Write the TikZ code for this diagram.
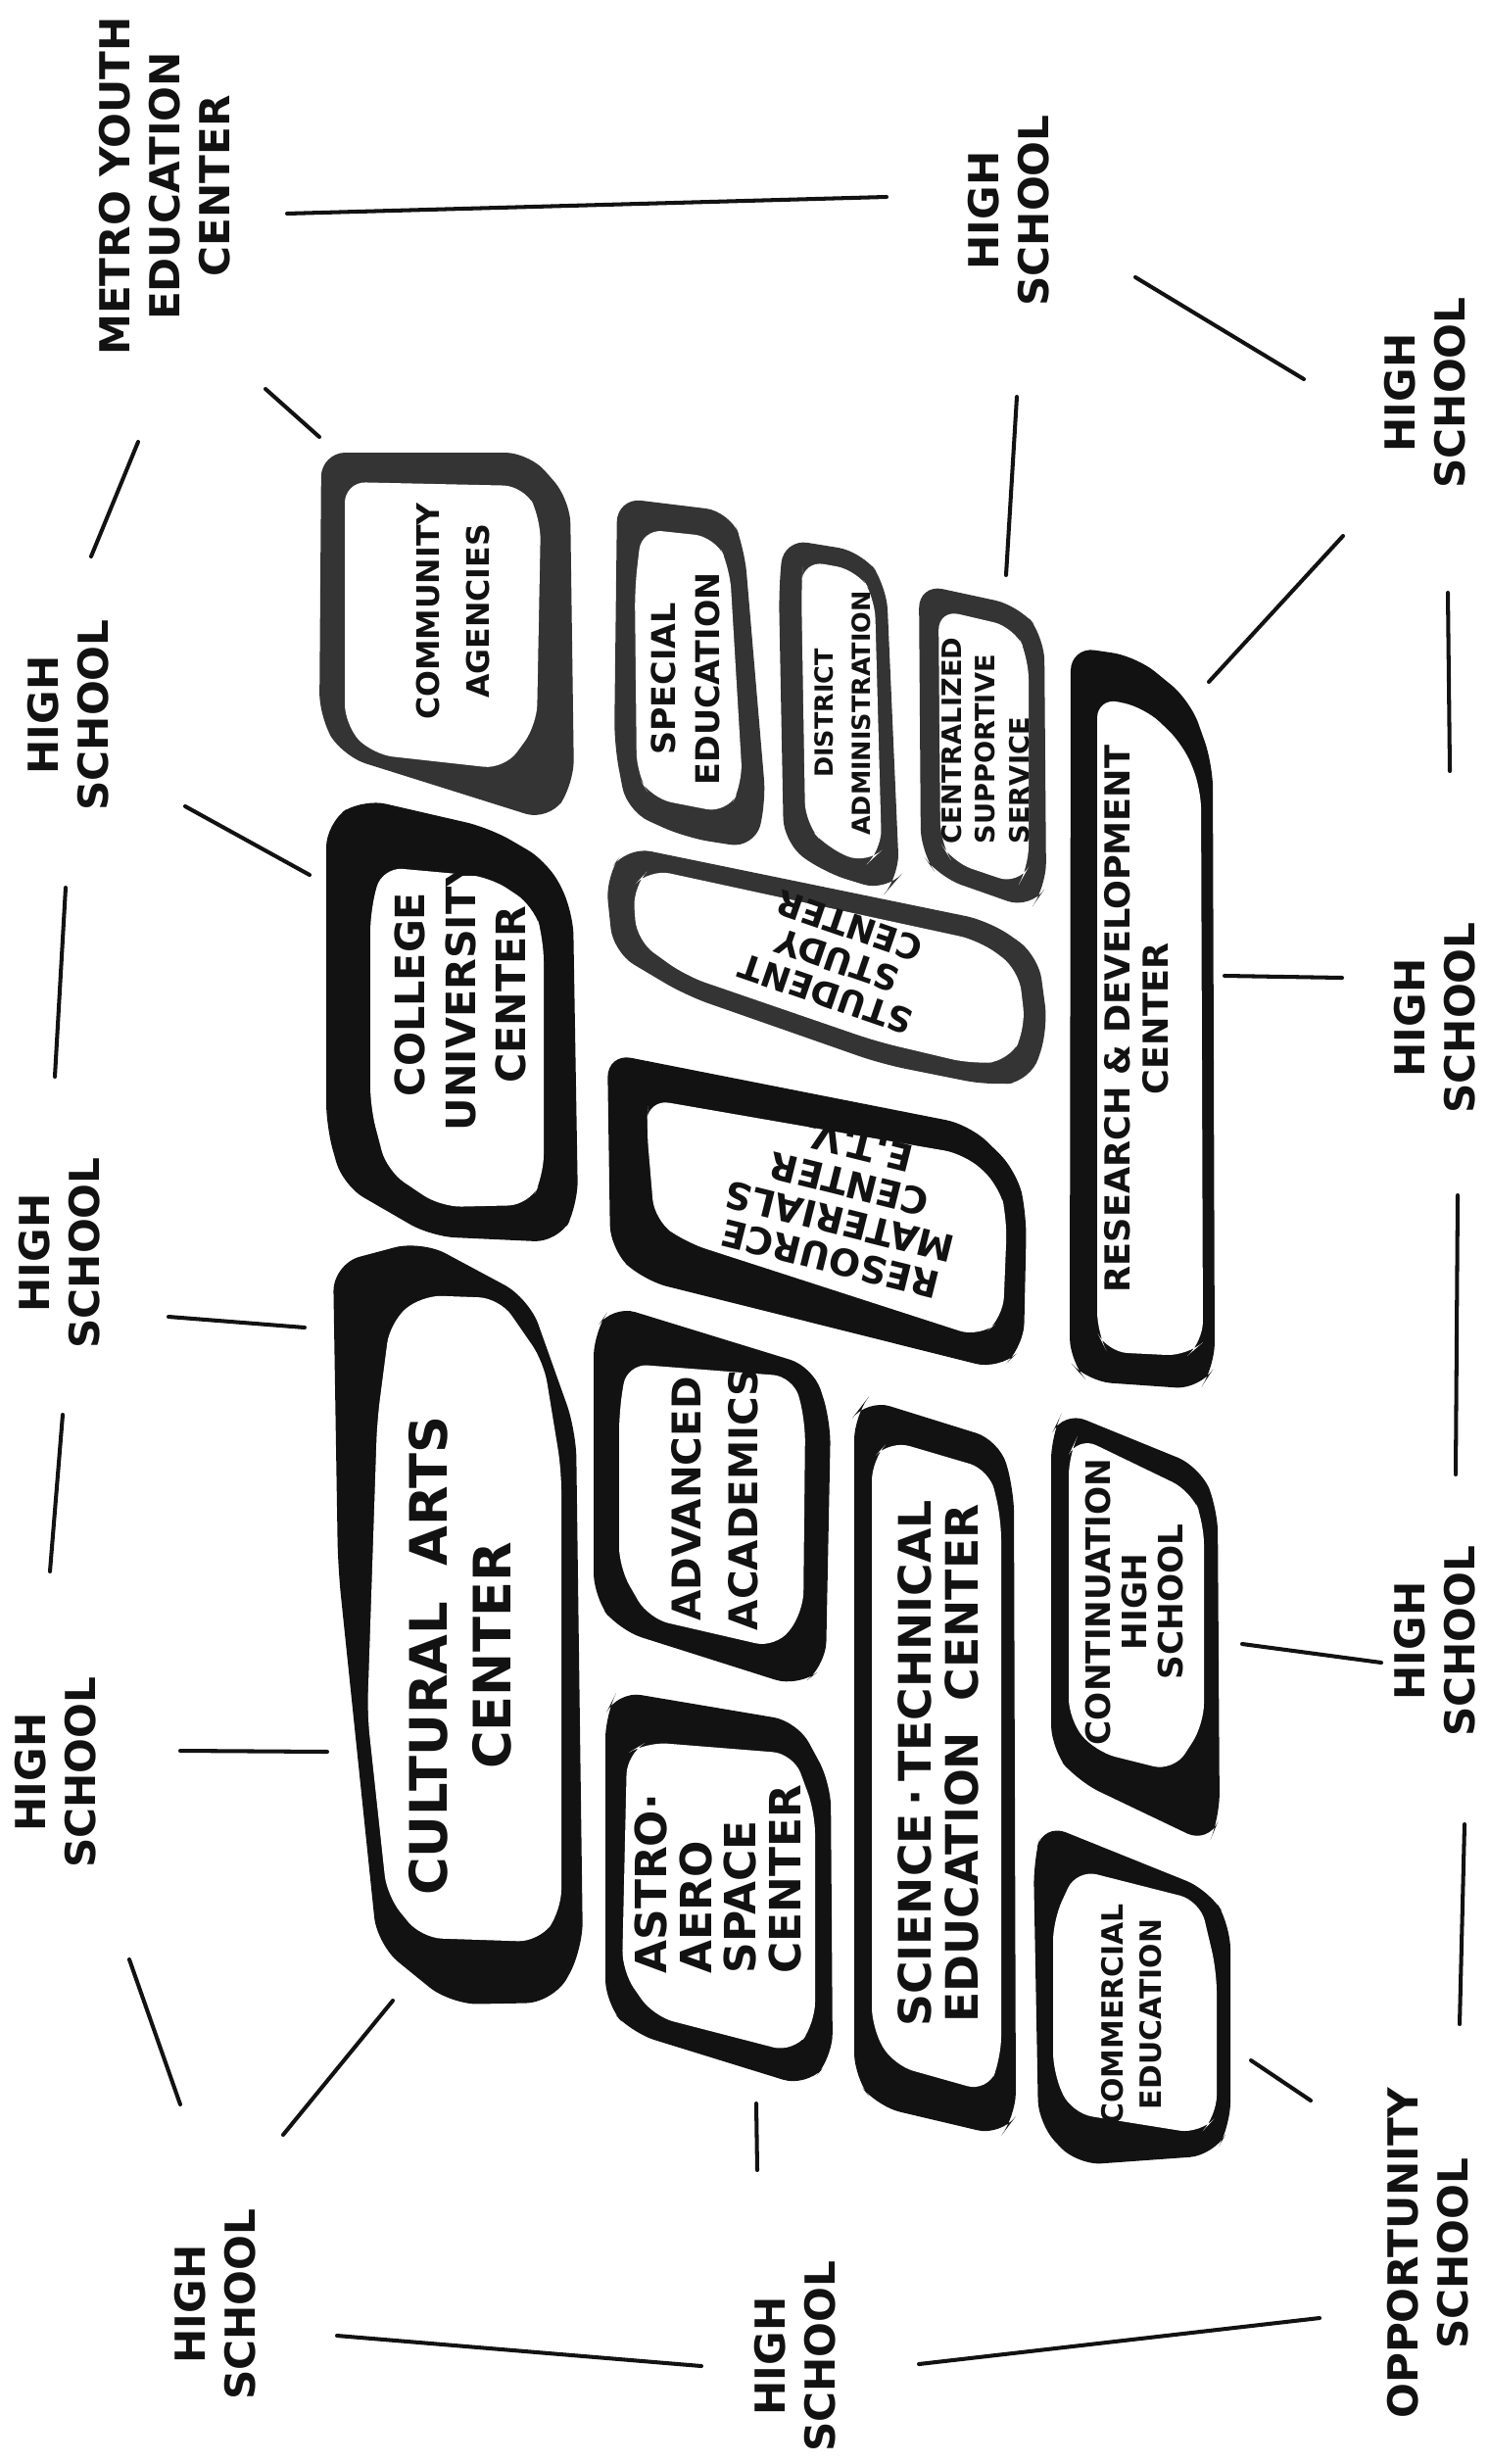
\documentclass[tikz,border=0pt]{standalone}
\usepackage{fontspec}
\setmainfont{DejaVu Sans}
\usepackage{tikz}
\definecolor{ink}{RGB}{18,18,18}
\definecolor{inkgray}{RGB}{52,52,52}
\tikzset{
  rimgray/.style={fill=inkgray,rounded corners=14pt},
  rimsolid/.style={fill=ink,rounded corners=14pt},
  screen/.style={fill=white,rounded corners=12pt},
  link/.style={line width=2.3pt,draw=ink,line cap=round},
  boxlabel/.style={rotate=90,align=center,text=ink,inner sep=0pt}
}

\begin{document}
\begin{tikzpicture}[
  x=0.2mm,y=-0.2mm,
  school/.style={boxlabel,font=\fontsize{24}{29}\selectfont\bfseries},
  lbl/.style 2 args={boxlabel,font=\fontsize{#1}{#2}\selectfont\bfseries}
]
\useasboundingbox (0,0) rectangle (1519,2515);
\fill[white] (0,0) rectangle (1519,2515);

\fill[rimgray] (328,462) -- (540,462) -- (582,510) -- (586,800) -- (560,838) -- (350,772) -- (326,732) -- cycle;
\fill[screen] (352,492) -- (535,496) -- (552,530) -- (548,740) -- (515,785) -- (380,770) -- (352,740) -- cycle;

\fill[rimgray] (630,508) -- (745,522) -- (760,560) -- (782,820) -- (770,866) -- (700,855) -- (640,828) -- (627,760) -- cycle;
\fill[screen] (655,540) -- (730,548) -- (745,580) -- (758,800) -- (742,830) -- (665,815) -- (650,790) -- (648,600) -- cycle;

\fill[rimgray] (800,550) -- (880,563) -- (905,598) -- (918,895) -- (905,910) -- (840,890) -- (800,860) -- (795,600) -- cycle;
\fill[screen] (820,572) -- (875,582) -- (893,610) -- (900,868) -- (885,882) -- (845,866) -- (822,840) -- (818,600) -- cycle;

\fill[rimgray] (938,596) -- (1040,618) -- (1066,650) -- (1068,905) -- (1052,928) -- (958,895) -- (940,870) -- cycle;
\fill[screen] (958,622) -- (1035,640) -- (1050,672) -- (1050,885) -- (1040,903) -- (972,880) -- (960,860) -- cycle;

\fill[rimsolid] (1093,660) -- (1160,670) -- (1215,715) -- (1238,780) -- (1240,1395) -- (1225,1418) -- (1110,1410) -- (1092,1390) -- cycle;
\fill[screen] (1120,712) -- (1168,722) -- (1208,760) -- (1226,805) -- (1228,1370) -- (1212,1384) -- (1130,1380) -- (1120,1360) -- cycle;

\fill[rimsolid] (333,840) -- (370,815) -- (500,845) -- (560,880) -- (585,930) -- (590,1230) -- (570,1268) -- (440,1262) -- (350,1210) -- (333,1150) -- cycle;
\fill[screen] (378,930) -- (390,885) -- (500,895) -- (545,925) -- (555,960) -- (555,1200) -- (540,1230) -- (450,1232) -- (395,1195) -- (378,1130) -- cycle;

\fill[rimgray] (618,895) -- (640,864) -- (1010,940) -- (1060,975) -- (1070,1050) -- (1052,1104) -- (1010,1108) -- (900,1086) -- (700,1016) -- (626,972) -- cycle;
\fill[screen] (646,905) -- (663,887) -- (1000,960) -- (1040,990) -- (1047,1050) -- (1030,1083) -- (992,1086) -- (895,1063) -- (700,996) -- (650,960) -- cycle;

\fill[rimsolid] (620,1075) -- (990,1148) -- (1038,1195) -- (1048,1240) -- (1045,1375) -- (1020,1398) -- (657,1307) -- (623,1275) -- cycle;
\fill[screen] (660,1150) -- (662,1122) -- (985,1178) -- (1020,1210) -- (1028,1245) -- (1024,1345) -- (1000,1365) -- (700,1268) -- (668,1245) -- cycle;

\fill[rimsolid,rounded corners=16pt] (340,1290) -- (430,1266) -- (540,1325) -- (588,1460) -- (595,1990) -- (565,2044) -- (460,2046) -- (385,1985) -- (345,1600) -- cycle;
\fill[screen] (398,1350) -- (430,1322) -- (510,1325) -- (555,1390) -- (573,1500) -- (573,1950) -- (550,1982) -- (430,1978) -- (395,1935) -- (375,1750) -- (385,1450) -- cycle;

\fill[rimsolid] (606,1360) -- (625,1332) -- (830,1395) -- (848,1450) -- (843,1700) -- (815,1722) -- (632,1664) -- (606,1630) -- cycle;
\fill[screen] (640,1392) -- (810,1405) -- (822,1450) -- (820,1646) -- (792,1682) -- (662,1652) -- (632,1600) -- (632,1440) -- cycle;

\fill[rimsolid] (618,1750) -- (630,1726) -- (814,1757) -- (848,1820) -- (850,2100) -- (823,2130) -- (645,2075) -- (618,2045) -- cycle;
\fill[screen] (640,1790) -- (660,1778) -- (810,1790) -- (832,1850) -- (832,2065) -- (810,2095) -- (667,2058) -- (635,2012) -- cycle;

\fill[rimsolid] (872,1445) -- (885,1428) -- (1020,1470) -- (1035,1520) -- (1037,2160) -- (1022,2180) -- (895,2150) -- (872,2120) -- cycle;
\fill[screen] (890,1490) -- (908,1470) -- (1010,1500) -- (1022,1550) -- (1022,2100) -- (1008,2135) -- (912,2108) -- (890,2070) -- cycle;

\fill[rimsolid] (1073,1465) -- (1085,1440) -- (1225,1497) -- (1243,1540) -- (1245,1855) -- (1234,1882) -- (1100,1818) -- (1073,1785) -- cycle;
\fill[screen] (1091,1485) -- (1100,1466) -- (1216,1522) -- (1229,1555) -- (1229,1760) -- (1198,1808) -- (1118,1788) -- (1091,1755) -- cycle;

\fill[rimsolid] (1055,1900) -- (1065,1861) -- (1234,1929) -- (1256,1965) -- (1256,2170) -- (1239,2200) -- (1100,2210) -- (1060,2168) -- cycle;
\fill[screen] (1075,1960) -- (1099,1908) -- (1225,1940) -- (1242,2012) -- (1242,2160) -- (1225,2178) -- (1094,2157) -- (1075,2116) -- cycle;

\node[lbl={18}{29}] (comm) at (462,624) {COMMUNITY\\AGENCIES};
\node[lbl={19}{25.5}] (sped) at (700,693) {SPECIAL\\EDUCATION};
\node[lbl={14.5}{21.5}] (dist) at (860,728) {DISTRICT\\ADMINISTRATION};
\node[lbl={15.5}{19.5},align=left] (cent) at (1006,756) {CENTRALIZED\\SUPPORTIVE\\SERVICE};
\node[lbl={20}{22.5}] (resd) at (1160,1040) {RESEARCH \& DEVELOPMENT\\CENTER};
\node[lbl={23.5}{29.5}] (coll) at (470,1015) {COLLEGE\\UNIVERSITY\\CENTER};
\node[lbl={20}{21},rotate=71] (stud) at (855,980) {STUDENT\\STUDY\\CENTER};
\node[lbl={21.5}{22.5},rotate=76] (reso) at (862,1228) {RESOURCE\\MATERIALS\\CENTER\\E.T.V.};
\node[lbl={30}{37}] (cult) at (470,1690) {CULTURAL~~ARTS\\CENTER};
\node[lbl={23}{33}] (adv) at (730,1530) {ADVANCED\\ACADEMICS};
\node[lbl={25}{26},align=left] (astr) at (733,1918) {ASTRO·\\AERO\\SPACE\\CENTER};
\node[lbl={26}{27}] (sci) at (958,1800) {SCIENCE\,·\,TECHNICAL\\EDUCATION~~CENTER};
\node[lbl={19.5}{21}] (cont) at (1158,1635) {CONTINUATION\\HIGH\\SCHOOL};
\node[lbl={17}{22}] (comc) at (1155,2056) {COMMERCIAL\\EDUCATION};

\node[school] (metro) at (168,190) {METRO YOUTH\\EDUCATION\\CENTER};
\foreach \nm/\x/\y in {hsB/1030/215,hsC/1455/401,hsD/70/730,hsE/61/1279,hsF/57/1809,
                      hsG/220/2352,hsH/812/2405,hsJ/1465/1675,hsK/1465/1039}{
  \node[school] (\nm) at (\x,\y) {HIGH\\SCHOOL};
}
\node[school] (opp) at (1458,2300) {OPPORTUNITY\\SCHOOL};

\foreach \ax/\ay/\bx/\by [count=\i] in {
    293/218/905/201, 1159/283/1331/387, 1038/405/1027/587, 1371/547/1234/696,
    1478/605/1480/787, 271/397/326/446, 141/451/93/568, 189/823/316/893,
    67/906/56/1099, 172/1344/311/1355, 64/1444/51/1604, 184/1787/334/1788,
    132/2000/184/2148, 289/2179/401/2042, 344/2384/716/2415, 772/2147/773/2215,
    938/2413/1347/2366, 1277/2103/1338/2144, 1495/1862/1490/2066,
    1268/1678/1410/1697, 1488/1220/1486/1505, 1250/996/1370/998}{
  \coordinate (from\i) at (\ax,\ay);
  \coordinate (to\i) at (\bx,\by);
  \draw[link] (from\i) -- (to\i);
}

\end{tikzpicture}
\end{document}
